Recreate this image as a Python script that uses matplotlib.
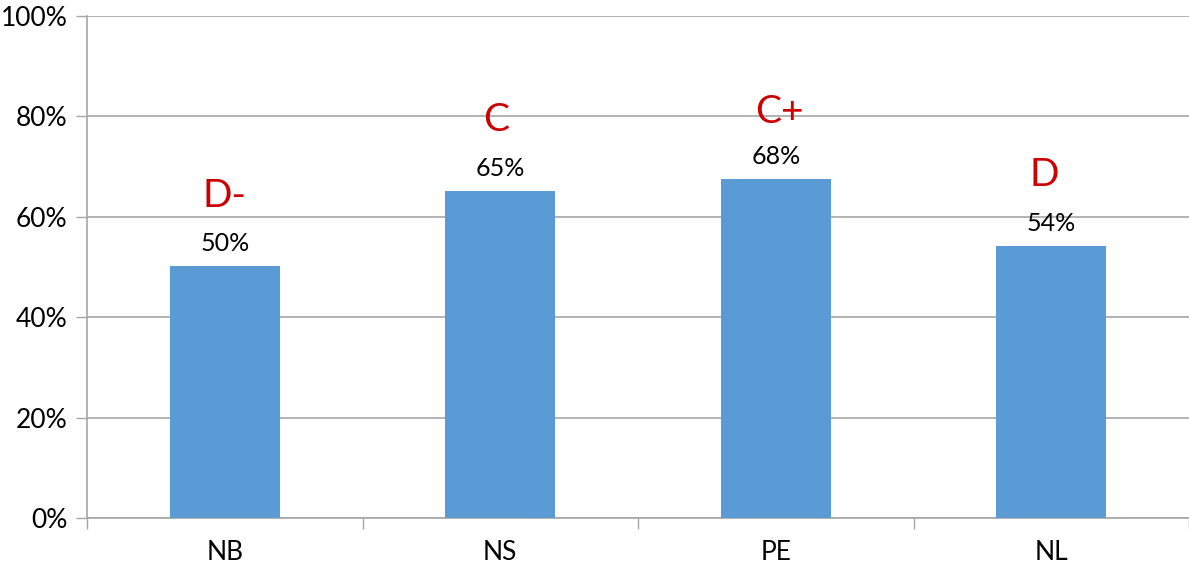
import numpy as np
import matplotlib.pyplot as plt
from matplotlib.ticker import FixedLocator

plt.rcParams['font.family'] = ['Lato', 'DejaVu Sans']

provinces = ['NB', 'NS', 'PE', 'NL']
scores = [50.2, 65.1, 67.6, 54.2]
grades = ['D-', 'C', 'C+', 'D']
grade_y = [64.1, 79.3, 80.9, 68.3]
grade_dx = [0.0, -0.016, 0.013, -0.027]

fig = plt.figure(figsize=(11.89, 5.65), dpi=100)
ax = fig.add_axes([0.0732, 0.0832, 0.9268, 0.8885])

x = np.arange(len(provinces))
ax.bar(x, scores, width=0.4, color='#5b9bd5', zorder=3)

# percentage labels above each bar
for xi, v in zip(x, scores):
    ax.annotate(f'{v:.0f}%', (xi, v), xytext=(0, 8), textcoords='offset points',
                ha='center', va='bottom', fontsize=18, color='black')

# grade letters in red
for xi, g, gy, dx in zip(x, grades, grade_y, grade_dx):
    ax.text(xi + dx, gy, g, ha='center', va='center', fontsize=28,
            color='#cc0000', fontweight='normal')

ax.set_xlim(-0.5, len(provinces) - 0.5)
ax.set_ylim(0, 100)
ax.set_yticks(np.arange(0, 101, 20))
ax.set_yticklabels([f'{t}%' for t in range(0, 101, 20)])
ax.set_xticks(x)
ax.set_xticklabels(provinces)
ax.xaxis.set_minor_locator(FixedLocator(np.arange(-0.5, len(provinces), 1.0)))

ax.grid(axis='y', color='#a6a6a6', linewidth=1.2, zorder=0)
ax.tick_params(axis='y', length=8, width=1, color='#a6a6a6', labelsize=19, pad=6)
ax.tick_params(axis='x', which='major', length=0, labelsize=19, pad=16)
ax.tick_params(axis='x', which='minor', length=8, width=1, color='#a6a6a6')

for side in ['top', 'right']:
    ax.spines[side].set_visible(False)
for side in ['left', 'bottom']:
    ax.spines[side].set_color('#a6a6a6')
    ax.spines[side].set_linewidth(1.2)

fig.savefig('out.png', dpi=100)
